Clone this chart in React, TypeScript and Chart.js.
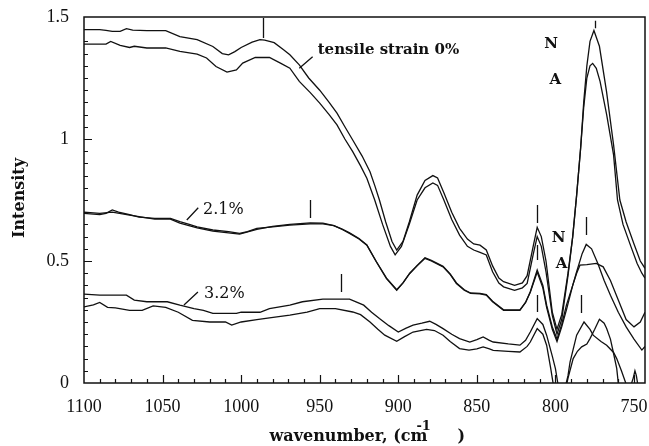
import React, { useEffect, useRef } from "react";
import { Chart, registerables } from "chart.js";
Chart.register(...registerables);

// ---------- tick labels ----------
const xTickValues = [1100, 1050, 1000, 950, 900, 850, 800, 750];
const yTickValues = [0, 0.5, 1, 1.5];
const xTitle = "wavenumber, (cm";
const xTitleSup = "-1";
const xTitleEnd = ")";
const yTitle = "Intensity";

// ---------- tensile strain 0% ----------
const wn0N = [1100, 1090, 1086, 1082, 1077, 1073, 1069, 1060, 1048, 1039, 1028, 1018, 1012, 1008, 1004, 1000, 993, 988, 985, 979, 973, 969, 963, 957, 950, 944, 939, 934, 929, 923, 918, 915, 912, 908, 904, 901, 897, 893, 888, 883, 878, 875, 871, 866, 861, 856, 852, 848, 844, 840, 836, 833, 826, 821, 818, 814, 811.6, 809, 806, 802, 799, 796, 792, 789, 786.5, 784, 782, 780, 778, 775.5, 772, 767.5, 763, 759, 755, 750, 746, 743];
const int0N = [1.448, 1.448, 1.445, 1.441, 1.441, 1.452, 1.446, 1.444, 1.444, 1.42, 1.407, 1.379, 1.35, 1.345, 1.358, 1.375, 1.397, 1.407, 1.405, 1.395, 1.366, 1.345, 1.304, 1.25, 1.2, 1.15, 1.106, 1.05, 0.996, 0.93, 0.866, 0.81, 0.75, 0.66, 0.58, 0.545, 0.58, 0.66, 0.77, 0.83, 0.85, 0.84, 0.78, 0.7, 0.634, 0.59, 0.57, 0.565, 0.545, 0.48, 0.43, 0.415, 0.4, 0.41, 0.44, 0.565, 0.638, 0.6, 0.5, 0.29, 0.22, 0.28, 0.45, 0.6, 0.77, 0.96, 1.15, 1.3, 1.4, 1.445, 1.38, 1.195, 0.976, 0.75, 0.66, 0.57, 0.5, 0.47];

const wn0A = [1100, 1086, 1083, 1077, 1071, 1068, 1060, 1048, 1039, 1028, 1022, 1016, 1009, 1003, 999, 991, 982, 975, 969, 963, 956, 950, 944, 939, 934, 929, 924, 920, 915, 910, 905, 902, 898, 893, 888, 883, 878, 875, 871, 866, 861, 856, 852, 848, 844, 840, 836, 833, 826, 821, 818, 814, 811.6, 809, 806, 802, 799, 796, 792, 789, 786.5, 784, 782, 780, 778, 776.3, 774, 771.6, 767.4, 763, 760.5, 757, 752, 748, 745, 743];
const int0A = [1.389, 1.389, 1.4, 1.384, 1.375, 1.38, 1.373, 1.373, 1.359, 1.348, 1.332, 1.297, 1.274, 1.283, 1.311, 1.334, 1.334, 1.311, 1.29, 1.236, 1.19, 1.147, 1.1, 1.058, 1.0, 0.948, 0.89, 0.839, 0.75, 0.65, 0.56, 0.525, 0.56, 0.65, 0.75, 0.8, 0.82, 0.81, 0.75, 0.67, 0.606, 0.56, 0.545, 0.535, 0.525, 0.456, 0.41, 0.394, 0.38, 0.39, 0.408, 0.531, 0.6, 0.56, 0.456, 0.277, 0.2, 0.26, 0.44, 0.6, 0.77, 0.96, 1.13, 1.25, 1.3, 1.31, 1.29, 1.236, 1.1, 0.935, 0.75, 0.65, 0.56, 0.49, 0.45, 0.43];

// ---------- tensile strain 2.1% ----------
const wn21N = [1100, 1090, 1086, 1082, 1078, 1071, 1065, 1055, 1045, 1039, 1033, 1028, 1018, 1008, 1001, 996, 990, 980, 969, 956, 948, 941, 936, 931, 925, 920, 914, 907.5, 901, 897, 892.7, 888, 883, 879, 871.5, 867, 863, 858, 854, 848, 844, 840, 833, 822.6, 819, 816, 811.6, 808, 805.6, 802, 799, 796, 793, 789, 786.5, 783, 780.4, 777, 773, 769, 765, 760, 755, 750, 745, 743];
const int21N = [0.695, 0.69, 0.695, 0.709, 0.7, 0.69, 0.68, 0.675, 0.675, 0.661, 0.65, 0.64, 0.627, 0.62, 0.613, 0.62, 0.634, 0.64, 0.647, 0.652, 0.652, 0.645, 0.63, 0.613, 0.59, 0.565, 0.497, 0.428, 0.38, 0.41, 0.449, 0.48, 0.511, 0.5, 0.476, 0.445, 0.408, 0.38, 0.367, 0.365, 0.36, 0.333, 0.298, 0.298, 0.33, 0.374, 0.463, 0.4, 0.319, 0.23, 0.18, 0.24, 0.319, 0.4, 0.456, 0.53, 0.568, 0.55, 0.49, 0.42, 0.36, 0.29, 0.23, 0.18, 0.135, 0.15];

const wn21A = [1100, 1090, 1082, 1071, 1055, 1045, 1039, 1028, 1018, 1001, 990, 980, 969, 956, 948, 941, 936, 931, 925, 920, 914, 907.5, 901, 897, 892.7, 888, 883, 879, 871.5, 867, 863, 858, 854, 848, 844, 840, 833, 822.6, 819, 816, 811.6, 808, 805.6, 802, 799, 796, 793, 789, 786.5, 784.4, 780, 774, 769.6, 765, 760, 755, 750, 746, 743];
const int21A = [0.7, 0.695, 0.7, 0.688, 0.672, 0.672, 0.655, 0.636, 0.622, 0.61, 0.63, 0.642, 0.65, 0.656, 0.655, 0.645, 0.632, 0.615, 0.592, 0.566, 0.498, 0.43, 0.382, 0.41, 0.45, 0.482, 0.513, 0.503, 0.478, 0.447, 0.41, 0.382, 0.369, 0.367, 0.362, 0.335, 0.3, 0.3, 0.33, 0.372, 0.455, 0.39, 0.31, 0.22, 0.17, 0.23, 0.3, 0.4, 0.45, 0.483, 0.485, 0.49, 0.476, 0.42, 0.34, 0.26, 0.23, 0.25, 0.29];

// ---------- tensile strain 3.2% ----------
const wn32N = [1100, 1090, 1073, 1068, 1060, 1047, 1039, 1030, 1024, 1018, 1008, 1003, 1000, 988, 982, 969, 961, 948, 931, 922, 917, 912, 906, 900, 895, 890.6, 885, 880, 876, 871.5, 866, 861, 854.5, 850, 846, 842, 839.6, 830, 822.6, 819, 816, 811.6, 808, 805.6, 802, 800, 798, 795, 792, 790.7, 786.5, 781.8, 778, 776, 771, 767.4, 763, 761, 758, 754.7, 752, 749, 743];
const int32N = [0.364, 0.36, 0.36, 0.34, 0.333, 0.333, 0.319, 0.305, 0.298, 0.285, 0.285, 0.285, 0.29, 0.29, 0.305, 0.319, 0.333, 0.344, 0.344, 0.319, 0.29, 0.264, 0.235, 0.209, 0.225, 0.237, 0.245, 0.253, 0.24, 0.223, 0.2, 0.182, 0.168, 0.178, 0.189, 0.175, 0.168, 0.16, 0.155, 0.175, 0.209, 0.264, 0.24, 0.196, 0.11, 0.059, -0.02, -0.05, 0.03, 0.086, 0.196, 0.25, 0.22, 0.196, 0.17, 0.155, 0.125, 0.1, 0.05, -0.01, -0.03, -0.03, -0.03];

const wn32A = [1100, 1094, 1090, 1085, 1080, 1071, 1063, 1056, 1048, 1040, 1031, 1020, 1010, 1006, 1000, 990, 982, 969, 958, 950, 940, 929, 924, 918, 913, 908.6, 901, 896, 890.6, 882, 877, 871.5, 867, 861, 855, 850, 846, 842, 839.6, 830, 822.6, 818, 816, 811.6, 808, 805.6, 803, 801.5, 798, 794, 792, 788.7, 786, 783.3, 780, 778, 775, 772, 769, 767.4, 765, 763.2, 761, 760, 757, 752, 750.5, 749.4, 748.5, 747.5, 743];
const int32A = [0.312, 0.32, 0.33, 0.31, 0.308, 0.298, 0.298, 0.316, 0.31, 0.29, 0.257, 0.25, 0.25, 0.237, 0.25, 0.26, 0.267, 0.278, 0.29, 0.305, 0.305, 0.291, 0.28, 0.25, 0.22, 0.196, 0.171, 0.19, 0.209, 0.22, 0.215, 0.196, 0.17, 0.141, 0.135, 0.14, 0.148, 0.14, 0.134, 0.13, 0.127, 0.15, 0.168, 0.223, 0.2, 0.155, 0.06, 0.0, -0.06, -0.04, 0.02, 0.1, 0.13, 0.148, 0.16, 0.182, 0.22, 0.261, 0.245, 0.223, 0.18, 0.127, 0.06, 0.0, -0.02, -0.01, 0.02, 0.05, 0.03, -0.01, -0.02];

// ---------- annotations (data coordinates) ----------
const markerWn = [985.9, 956.2, 936.6, 775, 811.5, 780.7, 811.5, 811.5, 783.9];
const markerFrom = [1.414, 0.676, 0.373, 1.454, 0.656, 0.607, 0.504, 0.291, 0.287];
const markerTo = [1.496, 0.75, 0.447, 1.485, 0.73, 0.68, 0.566, 0.361, 0.361];

const strainText = ["tensile strain 0%", "2.1%", "3.2%"];
const strainTextWn = [951.3, 1024.3, 1023.6];
const strainTextInt = [1.365, 0.709, 0.365];
const strainBold = [true, false, false];
const leaderWn1 = [954.5, 1027.3, 1027.5];
const leaderInt1 = [1.337, 0.718, 0.373];
const leaderWn2 = [963.0, 1034.6, 1036.4];
const leaderInt2 = [1.29, 0.668, 0.32];

const naText = ["N", "A", "N", "A"];
const naWn = [802.8, 800.0, 798.0, 796.1];
const naInt = [1.389, 1.242, 0.594, 0.488];

const pts = (xs: number[], ys: number[]) => xs.map((x, i) => ({ x, y: ys[i] }));

const annotPlugin = {
  id: "annot",
  afterDraw(chart: any) {
    const { ctx, chartArea: ca, scales } = chart;
    const x = scales.x;
    const y = scales.y;
    ctx.save();
    ctx.strokeStyle = "#111";
    ctx.fillStyle = "#111";
    // frame
    ctx.lineWidth = 1.5;
    ctx.strokeRect(ca.left, ca.top, ca.right - ca.left, ca.bottom - ca.top);
    // inward ticks
    ctx.lineWidth = 1.2;
    ctx.beginPath();
    for (let v = 750; v < 1100; v += 10) {
      const px = Math.round(x.getPixelForValue(v)) + 0.5;
      const len = v % 50 === 0 ? 8 : 4;
      ctx.moveTo(px, ca.bottom);
      ctx.lineTo(px, ca.bottom - len);
    }
    for (let k = 1; k < 30; k++) {
      const py = Math.round(y.getPixelForValue(k * 0.05)) + 0.5;
      const len = k % 10 === 0 ? 8 : 4;
      ctx.moveTo(ca.left, py);
      ctx.lineTo(ca.left + len, py);
    }
    ctx.stroke();
    // marker lines
    ctx.lineWidth = 1.3;
    ctx.beginPath();
    markerWn.forEach((w, i) => {
      const px = Math.round(x.getPixelForValue(w)) + 0.5;
      ctx.moveTo(px, y.getPixelForValue(markerFrom[i]));
      ctx.lineTo(px, y.getPixelForValue(markerTo[i]));
    });
    // leader lines
    leaderWn1.forEach((w, i) => {
      ctx.moveTo(x.getPixelForValue(w), y.getPixelForValue(leaderInt1[i]));
      ctx.lineTo(x.getPixelForValue(leaderWn2[i]), y.getPixelForValue(leaderInt2[i]));
    });
    ctx.stroke();
    // strain labels
    ctx.textBaseline = "middle";
    ctx.textAlign = "left";
    strainText.forEach((t, i) => {
      ctx.font = strainBold[i] ? 'bold 15px "DejaVu Serif"' : '16px "DejaVu Serif"';
      ctx.fillText(t, x.getPixelForValue(strainTextWn[i]), y.getPixelForValue(strainTextInt[i]));
    });
    // N / A labels
    ctx.textAlign = "center";
    ctx.font = 'bold 15px "DejaVu Serif"';
    naText.forEach((t, i) => {
      ctx.fillText(t, x.getPixelForValue(naWn[i]), y.getPixelForValue(naInt[i]));
    });
    // y title
    ctx.save();
    ctx.translate(20, (ca.top + ca.bottom) / 2 - 2);
    ctx.rotate(-Math.PI / 2);
    ctx.font = 'bold 16px "DejaVu Serif"';
    ctx.textAlign = "center";
    ctx.textBaseline = "middle";
    ctx.fillText(yTitle, 0, 0);
    ctx.restore();
    // x title with superscript
    ctx.textAlign = "left";
    ctx.textBaseline = "alphabetic";
    ctx.font = 'bold 16px "DejaVu Serif"';
    const w1 = ctx.measureText(xTitle).width;
    const total = w1 + 36;
    const sx = (ca.left + ca.right) / 2 + 2 - total / 2;
    const base = 441;
    ctx.fillText(xTitle, sx, base);
    ctx.font = 'bold 13px "DejaVu Serif"';
    ctx.fillText(xTitleSup, sx + w1 - 11, base - 11);
    ctx.font = 'bold 16px "DejaVu Serif"';
    ctx.fillText(xTitleEnd, sx + w1 + 30, base);
    ctx.restore();
  },
};

export default function App() {
  const ref = useRef<HTMLCanvasElement>(null);
  useEffect(() => {
    const line = (xs: number[], ys: number[]) => ({
      data: pts(xs, ys),
      borderColor: "#111",
      borderWidth: 1.3,
      pointRadius: 0,
      tension: 0,
      fill: false,
    });
    const chart = new Chart(ref.current as HTMLCanvasElement, {
      type: "line",
      data: {
        datasets: [
          line(wn0N, int0N),
          line(wn0A, int0A),
          line(wn21N, int21N),
          line(wn21A, int21A),
          line(wn32N, int32N),
          line(wn32A, int32A),
        ],
      },
      options: {
        animation: false,
        responsive: false,
        devicePixelRatio: 1,
        layout: { padding: { top: 17, right: 4, left: 0, bottom: 0 } },
        plugins: { legend: { display: false }, tooltip: { enabled: false } },
        scales: {
          x: {
            type: "linear",
            reverse: true,
            min: 743,
            max: 1100,
            grid: { display: false, drawTicks: false },
            border: { display: false },
            afterBuildTicks: (s: any) => {
              s.ticks = xTickValues.map((v) => ({ value: v }));
            },
            afterFit: (s: any) => {
              s.height = 63;
              s.paddingLeft = 0;
              s.paddingRight = 0;
            },
            ticks: {
              maxRotation: 0,
              autoSkip: false,
              padding: 13,
              color: "#111",
              font: { family: '"Liberation Serif"', size: 18 },
              callback: (v: any) => String(v),
            },
          },
          y: {
            type: "linear",
            min: 0,
            max: 1.5,
            grid: { display: false, drawTicks: false },
            border: { display: false },
            afterBuildTicks: (s: any) => {
              s.ticks = yTickValues.map((v) => ({ value: v }));
            },
            afterFit: (s: any) => {
              s.width = 84;
              s.paddingTop = 0;
              s.paddingBottom = 0;
            },
            ticks: {
              autoSkip: false,
              padding: 15,
              color: "#111",
              font: { family: '"Liberation Serif"', size: 18 },
              callback: (v: any) => String(v),
            },
          },
        },
      },
      plugins: [annotPlugin],
    } as any);
    return () => chart.destroy();
  }, []);
  return (
    <div style={{ position: "absolute", left: 0, top: 0, width: 649, height: 446, background: "#fff" }}>
      <canvas ref={ref} width={649} height={446} style={{ display: "block", width: 649, height: 446 }} />
    </div>
  );
}
